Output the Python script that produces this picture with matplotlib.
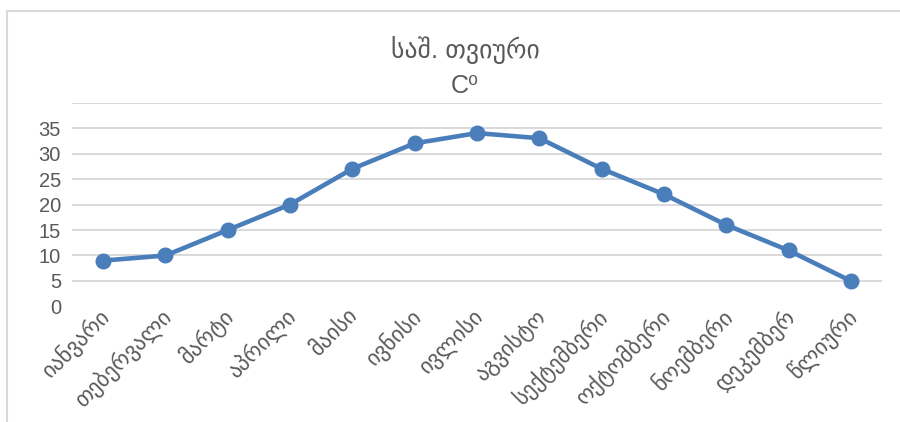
import matplotlib.pyplot as plt
from matplotlib.patches import Rectangle
from matplotlib.transforms import ScaledTranslation

plt.rcParams['font.family'] = ['Liberation Sans', 'DejaVu Sans']

# თვეები და საშუალო ტემპერატურა
months = ['იანვარი', 'თებერვალი', 'მარტი', 'აპრილი', 'მაისი', 'ივნისი', 'ივლისი',
          'აგვისტო', 'სექტემბერი', 'ოქტომბერი', 'ნოემბერი', 'დეკემბერ', 'წლიური']
temps = [9, 10, 15, 20, 27, 32, 34, 33, 27, 22, 16, 11, 5]
yticks = [0, 5, 10, 15, 20, 25, 30, 35]
grid_levels = [5, 10, 15, 20, 25, 30, 35, 40]

txt = '#595959'
blue = '#4a7ebb'

fig = plt.figure(figsize=(9, 4.22), dpi=100)
ax = fig.add_axes([0.08, 0.2737, 0.90, 0.4834])

# ჩარჩო
fig.patches.append(Rectangle((7 / 900, -0.1), 1.2, 1.1 - 11 / 422, transform=fig.transFigure,
                             fill=False, edgecolor='#d9d9d9', linewidth=1.5, zorder=0))

for g in grid_levels:
    ax.axhline(g, color='#d9d9d9', linewidth=1.4, zorder=1)

x = list(range(len(months)))
ax.plot(x, temps, color=blue, linewidth=3.3, marker='o', markersize=10.5, zorder=3)

ax.set_xlim(-0.5, len(months) - 0.5)
ax.set_ylim(0, 40)
ax.set_yticks(yticks)
ax.set_yticklabels([str(v) for v in yticks], fontsize=14.5, color=txt)
ax.set_xticks(x)
ax.set_xticklabels(months, rotation=45, ha='right', va='top', fontsize=16,
                   color=txt, rotation_mode='anchor')
ax.tick_params(axis='both', length=0)
ax.tick_params(axis='y', pad=8)
ax.tick_params(axis='x', pad=0)
# ოდნავ მარცხნივ
shift = ScaledTranslation(-5 / 100, 2 / 100, fig.dpi_scale_trans)
for lbl in ax.get_xticklabels():
    lbl.set_transform(lbl.get_transform() + shift)
for s in ax.spines.values():
    s.set_visible(False)

fig.text(465 / 900, 1 - 50 / 422, 'საშ. თვიური', ha='center', va='center',
         fontsize=18.5, color=txt)
fig.text(465 / 900, 1 - 86 / 422, 'C⁰', ha='center', va='center',
         fontsize=18, color=txt)

fig.savefig('out.png', dpi=100)
